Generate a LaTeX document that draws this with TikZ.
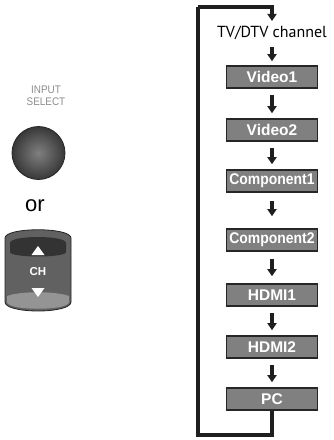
\documentclass[tikz,border=0pt]{standalone}
\usepackage{fontspec}
\setmainfont{Liberation Sans}
\newfontfamily\tvfont{PT Sans}
\usetikzlibrary{arrows.meta}
\begin{document}
\begin{tikzpicture}[x=1pt,y=-1pt,
  srcbox/.style={draw=black!85,line width=1.6pt,fill=black!50,minimum width=91pt,minimum height=22pt,inner sep=0pt,text=white,font=\fontsize{15.5}{16}\selectfont\bfseries},
  flow/.style={draw=black!88,line width=3.2pt,-{Triangle[width=9pt,length=7pt]}},
  loopline/.style={draw=black!88,line width=3.2pt,line join=miter}]
\useasboundingbox (0,0) rectangle (334,440);
% left controls
\node[text=black!45,font=\fontsize{11}{11.5}\selectfont,align=center,inner sep=0pt] (inp) at (46,96) {\scalebox{0.9}[1]{INPUT}\\\scalebox{0.9}[1]{SELECT}};
\node[circle,draw=black!85,line width=0.8pt,minimum size=53pt,inner sep=0pt,inner color=black!50,outer color=black!78] (btn) at (38.5,153) {};
\node[font=\fontsize{22}{22}\selectfont,inner sep=0pt] (or) at (35,206) {or};
\draw[fill=black!62,draw=black!85,line width=0.8pt] (5,238) .. controls (5,227) and (71,227) .. (71,238) -- (71,302) .. controls (71,314) and (5,314) .. (5,302) -- cycle;
\fill[black!80] (10,243) .. controls (10,235) and (66,235) .. (66,243) -- (66,252) .. controls (66,258) and (10,258) .. (10,252) -- cycle;
\fill[black!42] (7,296) .. controls (20,291) and (56,291) .. (69,296) -- (69,302) .. controls (69,311) and (7,311) .. (7,302) -- cycle;
\fill[white] (38,246) -- (31.5,255) -- (44.5,255) -- cycle;
\fill[white] (31.5,288) -- (44.5,288) -- (38,297) -- cycle;
\node[text=white,font=\fontsize{11.5}{11.5}\selectfont\bfseries,inner sep=0pt] (ch) at (38,272) {CH};
% flow
\node[font=\tvfont\fontsize{16}{16}\selectfont,inner sep=0pt] (tv) at (272,33) {TV/DTV channel};
\node[srcbox] (v1) at (272,77) {Video1};
\node[srcbox] (v2) at (272,130) {Video2};
\node[srcbox] (c1) at (272,181) {\scalebox{0.9}[1]{Component1}};
\node[srcbox] (c2) at (272,240) {\scalebox{0.9}[1]{Component2}};
\node[srcbox] (h1) at (272,295) {HDMI1};
\node[srcbox] (h2) at (272,347) {HDMI2};
\node[srcbox] (pc) at (272,399) {PC};
\coordinate (br) at (272,435);
\coordinate (tl) at (198,7);
\draw[flow,shorten <=7pt,shorten >=4pt] (tv) -- (v1);
\draw[flow,shorten <=6pt,shorten >=5pt] (v1) -- (v2);
\draw[flow,shorten <=6pt,shorten >=5pt] (v2) -- (c1);
\draw[flow,shorten <=8pt,shorten >=12pt] (c1) -- (c2);
\draw[flow,shorten <=7pt,shorten >=7pt] (c2) -- (h1);
\draw[flow,shorten <=6pt,shorten >=5pt] (h1) -- (h2);
\draw[flow,shorten <=6pt,shorten >=5pt] (h2) -- (pc);
\draw[loopline] (pc.south) -- (br) -| (tl);
\draw[flow,line join=miter,shorten >=5pt] (tl) -| (tv.north);
\end{tikzpicture}
\end{document}
